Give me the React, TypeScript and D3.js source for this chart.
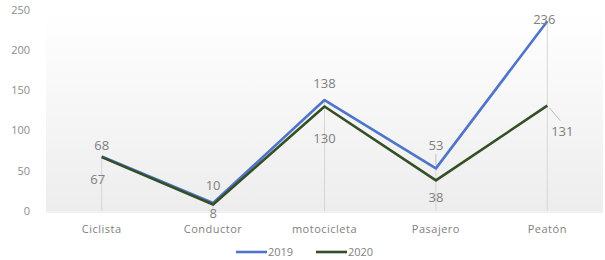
import React from "react";
import * as d3 from "d3";

const categories = ["Ciclista", "Conductor", "motocicleta", "Pasajero", "Peatón"];
const values2019 = [68, 10, 138, 53, 236];
const values2020 = [67, 8, 130, 38, 131];
const yTicks = [0, 50, 100, 150, 200, 250];

// label nudges (Excel moved a few by hand)
const off2019 = [[0, -11], [0, -18], [0, -17], [0, -23], [-3, -2]];
const off2020 = [[-4, 22], [0, 9], [0, 32], [0, 17], [15, 26]];

const W = 605;
const H = 260;
const margin = { top: 10, right: 2, bottom: 49, left: 46 };

export default function App() {
  const innerW = W - margin.left - margin.right;
  const innerH = H - margin.top - margin.bottom;

  const x = d3.scaleBand<string>().domain(categories).range([0, innerW]);
  const y = d3.scaleLinear().domain([0, 250]).range([innerH, 0]);
  const cx = (c: string) => (x(c) ?? 0) + x.bandwidth() / 2;

  const line = d3
    .line<number>()
    .x((_, i) => cx(categories[i]))
    .y((d) => y(d));

  const series = [
    { name: "2019", values: values2019, color: "#4f74c9", off: off2019 },
    { name: "2020", values: values2020, color: "#344f26", off: off2020 },
  ];

  const labelFont = "'Open Sans', 'DejaVu Sans', sans-serif";

  return (
    <svg
      width={W}
      height={H}
      style={{ position: "absolute", left: 0, top: 0, background: "#fff" }}
    >
      <defs>
        <linearGradient id="bg" x1="0" y1="0" x2="0" y2="1">
          <stop offset="0" stopColor="#ffffff" />
          <stop offset="1" stopColor="#ededed" />
        </linearGradient>
      </defs>
      <g transform={`translate(${margin.left},${margin.top})`}>
        <rect x={0} y={0} width={innerW} height={innerH} fill="url(#bg)" />
        <line x1={0} x2={innerW} y1={innerH + 1} y2={innerH + 1} stroke="#e2e2e2" />

        {/* drop lines */}
        {categories.map((c, i) => (
          <line
            key={c}
            x1={cx(c)}
            x2={cx(c)}
            y1={y(Math.max(values2019[i], values2020[i]))}
            y2={innerH}
            stroke="#d6d6d6"
            strokeWidth={1}
          />
        ))}

        {/* y ticks */}
        {yTicks.map((t) => (
          <text
            key={t}
            x={-16}
            y={y(t)}
            dy="0.35em"
            textAnchor="end"
            fontSize={11}
            fill="#8c8c8c"
            fontFamily={labelFont}
          >
            {t}
          </text>
        ))}

        {/* x labels */}
        {categories.map((c) => (
          <text
            key={c}
            x={cx(c)}
            y={innerH + 18}
            dy="0.35em"
            textAnchor="middle"
            fontSize={11}
            fill="#7f7f7f"
            fontFamily={labelFont}
            letterSpacing={0.5}
          >
            {c}
          </text>
        ))}

        {/* leader lines */}
        <line
          x1={cx(categories[3])}
          x2={cx(categories[3])}
          y1={y(values2019[3]) - 3}
          y2={y(values2019[3]) - 14}
          stroke="#bdbdbd"
        />
        <line
          x1={cx(categories[4]) + 2}
          x2={cx(categories[4]) + 13}
          y1={y(values2020[4]) + 2}
          y2={y(values2020[4]) + 15}
          stroke="#bdbdbd"
        />

        {series.map((s) => (
          <path
            key={s.name}
            d={line(s.values) ?? ""}
            fill="none"
            stroke={s.color}
            strokeWidth={2.6}
            strokeLinejoin="round"
          />
        ))}

        {series.map((s) =>
          s.values.map((v, i) => (
            <text
              key={s.name + i}
              x={cx(categories[i]) + s.off[i][0]}
              y={y(v) + s.off[i][1]}
              dy="0.35em"
              textAnchor="middle"
              fontSize={13}
              fill="#7f7f7f"
              fontFamily={labelFont}
            >
              {v}
            </text>
          ))
        )}
      </g>

      {/* legend */}
      <g transform={`translate(0, ${H - 8})`}>
        {series.map((s, i) => {
          const lx = 236 + i * 80;
          return (
            <g key={s.name}>
              <line x1={lx} x2={lx + 31} y1={0} y2={0} stroke={s.color} strokeWidth={2.6} />
              <text
                x={lx + 32}
                y={0}
                dy="0.35em"
                fontSize={11}
                fill="#7f7f7f"
                fontFamily={labelFont}
              >
                {s.name}
              </text>
            </g>
          );
        })}
      </g>
    </svg>
  );
}
